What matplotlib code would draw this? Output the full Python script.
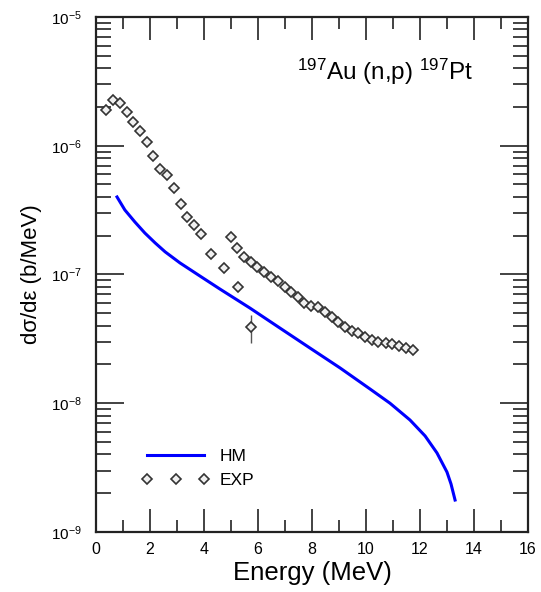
import numpy as np
import matplotlib.pyplot as plt
from matplotlib.legend_handler import HandlerLine2D
from matplotlib.ticker import NullFormatter

plt.rcParams['font.family'] = ['Liberation Sans', 'DejaVu Sans']
plt.rcParams['mathtext.fontset'] = 'custom'
plt.rcParams['mathtext.rm'] = 'Liberation Sans'
plt.rcParams['mathtext.it'] = 'Liberation Sans:italic'

# Hauser-Feshbach (HM) proton spectrum
hm_energy = [0.78, 1.07, 1.44, 1.81, 2.19, 2.56, 3.11, 3.85, 4.59, 5.70,
             6.81, 7.93, 9.04, 10.15, 10.89, 11.63, 12.19, 12.63, 13.0,
             13.15, 13.3]
hm_dsde = [4.00e-7, 3.17e-7, 2.56e-7, 2.10e-7, 1.76e-7, 1.50e-7, 1.23e-7,
           9.73e-8, 7.71e-8, 5.49e-8, 3.84e-8, 2.68e-8, 1.88e-8, 1.29e-8,
           1.00e-8, 7.41e-9, 5.57e-9, 4.11e-9, 2.92e-9, 2.36e-9, 1.77e-9]

# measured spectrum
exp_energy = [0.36, 0.62, 0.89, 1.14, 1.38, 1.63, 1.88, 2.12, 2.37, 2.62,
              2.89, 3.14, 3.38, 3.63, 3.89, 4.25, 4.73, 4.99, 5.24, 5.25,
              5.47, 5.73, 5.74, 5.97, 6.22, 6.48, 6.73, 7.00, 7.21, 7.47,
              7.72, 7.96, 8.21, 8.48, 8.73, 8.97, 9.22, 9.47, 9.72, 9.96,
              10.21, 10.46, 10.73, 10.98, 11.22, 11.47, 11.73]
exp_dsde = [1.90e-6, 2.26e-6, 2.16e-6, 1.84e-6, 1.52e-6, 1.29e-6, 1.07e-6,
            8.3e-7, 6.6e-7, 5.96e-7, 4.7e-7, 3.55e-7, 2.81e-7, 2.42e-7,
            2.06e-7, 1.44e-7, 1.12e-7, 1.95e-7, 1.62e-7, 7.96e-8, 1.37e-7,
            1.24e-7, 3.9e-8, 1.15e-7, 1.05e-7, 9.5e-8, 8.9e-8, 8.05e-8,
            7.36e-8, 6.65e-8, 6.04e-8, 5.69e-8, 5.56e-8, 5.14e-8, 4.70e-8,
            4.30e-8, 3.93e-8, 3.66e-8, 3.49e-8, 3.29e-8, 3.10e-8, 3.01e-8,
            2.95e-8, 2.88e-8, 2.80e-8, 2.70e-8, 2.59e-8]
# relative uncertainty in percent
exp_err = [6, 5, 5, 5, 5, 5, 5, 5, 5, 5,
           5, 5, 5, 5, 5, 5, 6, 5, 5, 7,
           5, 5, 25, 5, 5, 5, 5, 5, 5, 5,
           5, 5, 5, 5, 5, 5, 5, 5, 5, 5,
           5, 5, 5, 5, 5, 5, 5]

exp_energy = np.array(exp_energy)
exp_dsde = np.array(exp_dsde)
yerr = exp_dsde * np.array(exp_err) / 100.0

fig = plt.figure(figsize=(5.41, 5.92), dpi=100)
ax = fig.add_axes([0.1774, 0.1014, 0.7985, 0.8699])

hm_line, = ax.plot(hm_energy, hm_dsde, color='#0000ff', lw=2.2, label='HM',
                   zorder=3, solid_joinstyle='round')
ax.errorbar(exp_energy, exp_dsde, yerr=yerr, fmt='none', ecolor='#555555',
            elinewidth=1.0, capsize=0, zorder=4)
exp_pts, = ax.plot(exp_energy, exp_dsde, 'D', ms=4.7, mfc='#f0f0f0',
                   mec='#333333', mew=1.2, label='EXP', zorder=5)

ax.set_yscale('log')
ax.set_xlim(0, 16)
ax.set_ylim(1e-9, 1e-5)
ax.set_xticks(np.arange(0, 17, 2))
ax.set_xticks(np.arange(1, 16, 2), minor=True)
ax.yaxis.set_minor_formatter(NullFormatter())

ax.tick_params(axis='both', which='both', direction='in', top=True,
               right=True, width=1.2, color='#222222')
ax.tick_params(axis='y', which='major', length=20, pad=10, labelsize=11)
ax.tick_params(axis='y', which='minor', length=11)
ax.tick_params(axis='x', which='major', length=16.5, pad=7, labelsize=11.5)
ax.tick_params(axis='x', which='minor', length=8.5)
for sp in ax.spines.values():
    sp.set_linewidth(1.6)
    sp.set_color('#222222')

ax.set_xlabel('Energy (MeV)', fontsize=18.5, labelpad=3)
ax.set_ylabel('dσ/dε (b/MeV)', fontsize=16, labelpad=7)

ax.text(0.465, 0.893, r'$^{197}$Au (n,p) $^{197}$Pt', transform=ax.transAxes,
        fontsize=17.5, va='center', ha='left')

ax.legend(handles=[hm_line, exp_pts], loc='lower left',
          bbox_to_anchor=(0.118, 0.085), frameon=False, fontsize=12.5,
          handlelength=3.3, handletextpad=0.9, labelspacing=0.5,
          borderpad=0, borderaxespad=0,
          handler_map={exp_pts: HandlerLine2D(numpoints=3, marker_pad=0)})

fig.savefig('out.png', dpi=100)
